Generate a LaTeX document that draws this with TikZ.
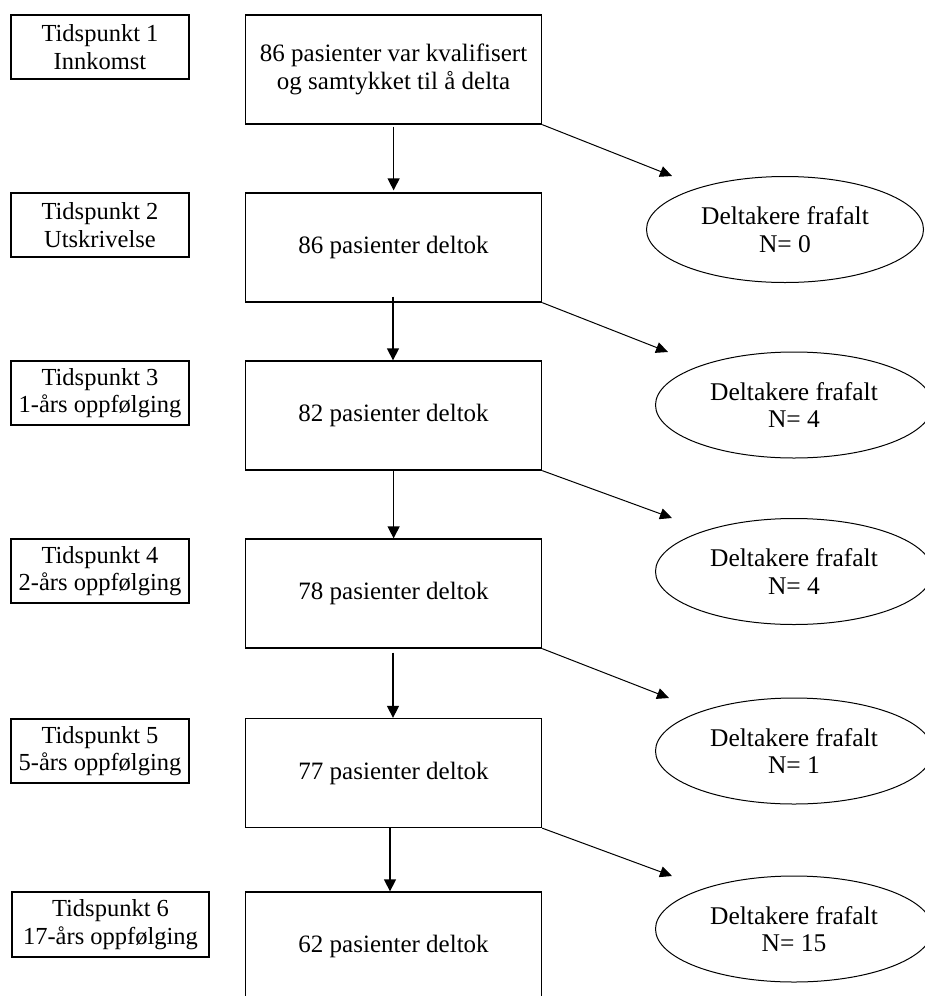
\documentclass[tikz,border=0pt]{standalone}
\usepackage{fontspec}
\setmainfont{Liberation Serif}
\usetikzlibrary{shapes.geometric,arrows.meta}
\begin{document}
\begin{tikzpicture}[x=1pt,y=-1pt,
  lbox/.style={draw,line width=1.3pt,rectangle,inner sep=0pt,align=center,font=\fontsize{24.5}{27.5}\selectfont,minimum width=178pt,minimum height=64pt},
  mbox/.style={draw,line width=1.3pt,rectangle,inner sep=0pt,align=center,font=\fontsize{25}{28.5}\selectfont,minimum width=296pt,minimum height=109pt},
  drop/.style={draw,line width=1pt,ellipse,inner sep=0pt,align=center,font=\fontsize{25.5}{27.5}\selectfont,minimum width=277pt,minimum height=106pt},
  varrow/.style={line width=1.3pt,-{Triangle[length=12pt,width=12pt]}},
  darrow/.style={line width=1pt,-{Triangle[length=12pt,width=11pt]}}]
\useasboundingbox (0,0) rectangle (925,996);
\fill[white] (0,0) rectangle (925,996);
% left boxes
\node[lbox] (l1) at (100,47) {Tidspunkt 1\\Innkomst};
\node[lbox] (l2) at (100,225) {Tidspunkt 2\\Utskrivelse};
\node[lbox] (l3) at (100,393) {Tidspunkt 3\\1-års oppfølging};
\node[lbox] (l4) at (100,571) {Tidspunkt 4\\2-års oppfølging};
\node[lbox] (l5) at (100,751) {Tidspunkt 5\\5-års oppfølging};
\node[lbox,minimum width=197pt,minimum height=65pt] (l6) at (110.5,924.5) {Tidspunkt 6\\17-års oppfølging};
% main boxes
\node[mbox] (m1) at (393.6,69.5) {86 pasienter var kvalifisert\\og samtykket til å delta};
\node[mbox] (m2) at (393.6,247.5) {86 pasienter deltok};
\node[mbox] (m3) at (393.6,415.5) {82 pasienter deltok};
\node[mbox] (m4) at (393.6,593.5) {78 pasienter deltok};
\node[mbox] (m5) at (393.6,773) {77 pasienter deltok};
\node[mbox] (m6) at (393.6,946.5) {62 pasienter deltok};
% ellipses
\node[drop] (e1) at (785,229.5) {Deltakere frafalt\\N= 0};
\node[drop] (e2) at (794,405) {Deltakere frafalt\\N= 4};
\node[drop] (e3) at (794,571.5) {Deltakere frafalt\\N= 4};
\node[drop] (e4) at (794,751) {Deltakere frafalt\\N= 1};
\node[drop] (e5) at (794,929) {Deltakere frafalt\\N= 15};
% arrow tips
\coordinate (t1) at (672,176);
\coordinate (t2) at (668,352);
\coordinate (t3) at (672,518);
\coordinate (t4) at (669,698);
\coordinate (t5) at (672,876);
% vertical arrows
\draw[varrow] ([yshift=-2pt]m1.south) -- ([yshift=2pt]m2.north);
\draw[varrow] ([yshift=6pt,xshift=-0.6pt]m2.south) -- ([xshift=-0.6pt]m3.north);
\draw[varrow] (m3.south) -- (m4.north);
\draw[varrow] ([yshift=-4pt,xshift=-0.6pt]m4.south) -- ([xshift=-0.6pt]m5.north);
\draw[varrow] ([xshift=-3.6pt]m5.south) -- ([xshift=-3.6pt]m6.north);
% diagonal arrows
\draw[darrow] (m1.south east) -- (t1);
\draw[darrow] (m2.south east) -- (t2);
\draw[darrow] (m3.south east) -- (t3);
\draw[darrow] (m4.south east) -- (t4);
\draw[darrow] (m5.south east) -- (t5);
\end{tikzpicture}
\end{document}
